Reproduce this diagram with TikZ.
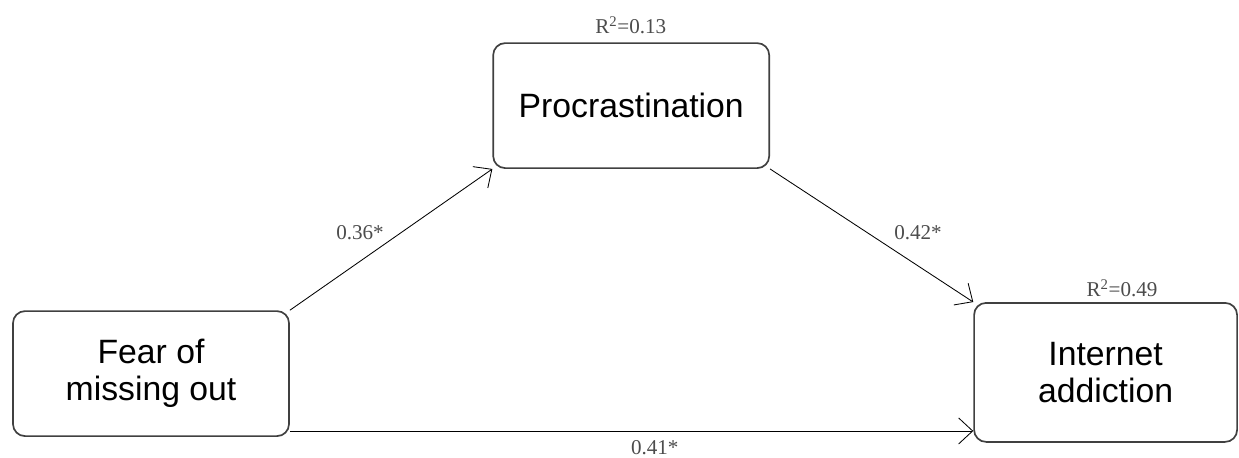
\documentclass[tikz,border=0pt]{standalone}
\usepackage{fontspec}
\setmainfont{Liberation Serif}
\newfontfamily\boxfont{Liberation Sans}
\usepackage{tikz}
\usetikzlibrary{arrows.meta,calc}

\begin{document}
\begin{tikzpicture}[
  box/.style={draw=black!75, line width=1.2pt, rounded corners=3mm, align=center, inner sep=0pt,
    font=\boxfont\fontsize{24}{26.5}\selectfont, minimum width=6.9cm, minimum height=3.125cm},
  coef/.style={font=\fontsize{15}{17}\selectfont, text=black!70, inner sep=0pt},
  ar/.style={-{Straight Barb[length=3.5mm, width=6.5mm]}, line width=0.6pt, draw=black}
]
  \useasboundingbox (0,0) rectangle (30.975,-11.425);
  \node[box] (proc) at (15.78,-2.64) {Procrastination};
  \node[box] (fomo) at (3.775,-9.34) {Fear of\\ missing out};
  \node[box, minimum width=6.575cm, minimum height=3.475cm] (inet) at (27.64,-9.31) {Internet\\ addiction};
  \coordinate (direct) at ($(fomo.south east)+(0,0.15)$);

  \draw[ar] (fomo.north east) -- (proc.south west);
  \draw[ar] (proc.south east) -- (inet.north west);
  \draw[ar] (direct) -- (direct -| inet.west);

  \node[coef] (r2proc) at (15.77,-0.625) {R\textsuperscript{2}=0.13};
  \node[coef] (r2inet) at (28.05,-7.2) {R\textsuperscript{2}=0.49};
  \node[coef] (a) at (9.0,-5.825) {0.36*};
  \node[coef] (b) at (22.95,-5.825) {0.42*};
  \node[coef] (c) at (16.37,-11.2) {0.41*};
\end{tikzpicture}
\end{document}
